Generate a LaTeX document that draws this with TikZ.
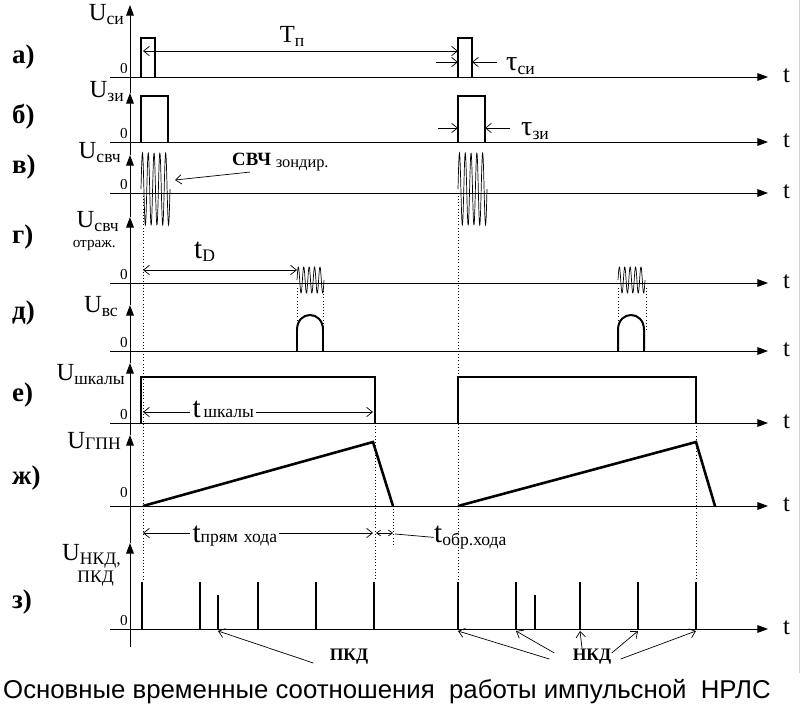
\documentclass[tikz,border=0pt]{standalone}
\usepackage{fontspec}
\setmainfont{Liberation Serif}
\newfontfamily\capfont{Liberation Sans}
\usetikzlibrary{arrows.meta,calc}
\tikzset{
    taxis/.style={line width=0.8pt, -{Triangle[length=9pt,width=6.5pt]}},
    pulse/.style={line width=1.7pt},
    ramp/.style={line width=2.2pt},
    burst/.style={line width=0.6pt},
    guide/.style={line width=0.7pt, dotted},
    dimarrow/.style={line width=0.6pt, {Straight Barb[length=5pt,width=8pt]}-{Straight Barb[length=5pt,width=8pt]}},
    ptr/.style={line width=0.6pt, -{Straight Barb[length=5pt,width=8pt]}},
    lbl/.style={inner sep=0pt},
}
\newcommand{\bigf}{\fontsize{21}{21}\selectfont}
\newcommand{\subf}{\fontsize{15}{15}\selectfont}
\newcommand{\tf}{\fontsize{25}{25}\selectfont}
\newcommand{\usub}[2]{{\bigf #1}\raisebox{-4pt}{\subf #2}}
\newcommand{\tsub}[3]{{\tf #1}\raisebox{#3}{\subf #2}}

\begin{document}
\begin{tikzpicture}[x=0.03cm, y=-0.03cm]
        \useasboundingbox (0,0) rectangle (802,718);
        %frame edge on the right
        \draw[gray!35, line width=0.6pt] (799,0) -- (799,673);
        %time axes and t labels
        \foreach \y/\n in {77/a,142/b,193/c,283/d,351/e,423/f,506/g,629/h}{
            \draw[taxis] (110,\y) -- (768,\y);
            \node[lbl, anchor=base west, font=\bigf] (t\n) at (783,{\y+5}) {t};
        }
        %voltage axes
        \foreach \a/\b in {93/5,155/93,217/155,305/217,363/305,435/363,543/435,647/543}
            \draw[taxis] (130,\a) -- (130,\b);
        %row labels
        \foreach \y/\t/\n in {57/а)/a,117/б)/b,167/в)/c,237/г)/d,313/д)/e,395/е)/f,478/ж)/g,602/з)/h}
            \node[anchor=west, font=\bfseries\fontsize{23}{23}\selectfont] (r\n) at (8,\y) {\t};
        %zero marks
        \foreach \y/\n in {73/a,138/b,189/c,279/d,347/e,419/f,497/g,625/h}
            \node[lbl, anchor=base east, font=\fontsize{13}{13}\selectfont] (z\n) at (128,\y) {0};
        %axis names
        \node[lbl, anchor=base east] (ua) at (124,20) {\usub{U}{си}};
        \node[lbl, anchor=base east] (ub) at (124,97) {\usub{U}{зи}};
        \node[lbl, anchor=base east] (uc) at (121,158) {\usub{U}{свч}};
        \node[lbl, anchor=base east] (ud) at (119,227) {\usub{U}{свч}};
        \node[lbl, anchor=base east, font=\fontsize{13}{13}\selectfont] (udx) at (116,247) {отраж.};
        \node[lbl, anchor=base east] (ue) at (118,312) {\usub{U}{вс}};
        \node[lbl, anchor=base east] (uf) at (125,380) {\usub{U}{шкалы}};
        \node[lbl, anchor=base east] (ug) at (121,448) {{\bigf U}\raisebox{-1pt}{\subf ГПН}};
        \node[lbl, anchor=base east] (uh) at (121,560) {\usub{U}{НКД,}};
        \node[lbl, anchor=base east, font=\subf] (uhx) at (114,582) {ПКД};

        %a) sync pulses
        \foreach \x in {141,458}
            \draw[pulse] (\x,77) -- (\x,38) -- ({\x+14},38) -- ({\x+14},77);
        \draw[dimarrow] (143,51) -- (458,51);
        \node[lbl, anchor=base] (tp) at (292,42) {\usub{T}{п}};
        \draw[ptr] (436,62) -- (458,62);
        \draw[ptr] (497,62) -- (472,62);
        \node[lbl, anchor=base west] (tsi) at (506,70) {{\fontsize{24}{24}\selectfont τ}\raisebox{-4pt}{\subf си}};

        %b) trigger pulses
        \foreach \x in {141,458}
            \draw[pulse] (\x,142) -- (\x,96) -- ({\x+27},96) -- ({\x+27},142);
        \draw[ptr] (438,128) -- (458,128);
        \draw[ptr] (510,128) -- (485,128);
        \node[lbl, anchor=base west] (tzi) at (521,135) {{\fontsize{24}{24}\selectfont τ}\raisebox{-4pt}{\subf зи}};

        %c) probing microwave bursts
        \foreach \s in {141,458}
            \draw[burst] plot[domain=0:29, samples=160, variable=\u] ({\s+\u},{189-36*sin(\u*360/5.8)});
        \node[lbl, anchor=base west] (svch) at (232,165) {{\bfseries\fontsize{16}{16}\selectfont СВЧ}\hspace{4pt}\raisebox{-2pt}{\fontsize{14}{14}\selectfont зондир.}};
        \coordinate (bc) at (175,180);
        \draw[ptr] ($(svch.south west)+(18,1)$) -- (bc);

        %d) echo bursts
        \foreach \s in {297,618}
            \draw[burst] plot[domain=0:27, samples=150, variable=\u] ({\s+\u},{280-13*sin(\u*360/5.4)});
        \draw[dimarrow] (143,270) -- (297,270);
        \node[lbl, anchor=base west] (td) at (194,258) {\tsub{t}{D}{-3pt}};

        %e) video pulses
        \foreach \s in {297,618}
            \draw[pulse] (\s,351) -- (\s,330) .. controls (\s,310) and ({\s+26},310) .. ({\s+26},330) -- ({\s+26},351);

        %dotted guides
        \draw[guide] (143,196) -- (143,580);
        \draw[guide] (458,196) -- (458,580);
        \foreach \x in {297,323,618,646}
            \draw[guide] (\x,288) -- (\x,330);
        \draw[guide] (375,423) -- (375,580);
        \draw[guide] (393,506) -- (393,546);
        \draw[guide] (696,423) -- (696,580);

        %f) range gate
        \foreach \s/\e in {141/375,458/696}
            \draw[pulse] (\s,423) -- (\s,377) -- (\e,377) -- (\e,423);
        \draw[dimarrow] (143,412) -- (373,412);
        \node[anchor=base west, fill=white, inner sep=2pt] (tsk) at (190,417) {\tsub{t}{\,шкалы}{0pt}};

        %g) sweep voltage
        \draw[ramp] (143,506) -- (373,442) -- (393,506);
        \draw[ramp] (458,506) -- (696,442) -- (715,506);
        \draw[dimarrow] (143,533) -- (373,533);
        \node[anchor=base west, fill=white, inner sep=2pt] (tpr) at (190,542) {\tsub{t}{прям\hspace{5pt}хода}{0pt}};
        \draw[line width=0.6pt, {Straight Barb[length=3.5pt,width=5pt]}-{Straight Barb[length=3.5pt,width=5pt]}] (376,533) -- (393,533);
        \node[lbl, anchor=base west] (tob) at (434,542) {\tsub{t}{обр.хода}{-3pt}};
        \draw[line width=0.6pt] (395,534) -- (tob.west);

        %h) range marks
        \foreach \x/\h/\n in {142/582/1,200/582/2,218/595/3,258/582/4,316/582/5,374/582/6,458/582/7,516/582/8,535/595/9,580/582/10,638/582/11,696/582/12}{
            \draw[pulse] (\x,629) -- (\x,\h);
            \coordinate (k\n) at (\x,631);
        }
        \node[font=\bfseries\fontsize{15}{15}\selectfont, inner sep=1pt] (pkd) at (349,657) {ПКД};
        \node[font=\bfseries\fontsize{15}{15}\selectfont, inner sep=1pt] (nkd) at (592,657) {НКД};
        \draw[ptr] ($(pkd.west)+(-15,6)$) -- (k3);
        \draw[ptr] ($(nkd.west)+(-22,2)$) -- (k7);
        \draw[ptr] ($(nkd.west)+(-17,-4)$) -- (k8);
        \draw[ptr] ($(nkd.north)+(-10,0)$) -- (k10);
        \draw[ptr] ($(nkd.east)+(-1,-4)$) -- (k11);
        \draw[ptr] ($(nkd.east)+(8,2)$) -- (k12);

        %caption
        \node[lbl, anchor=base west, font=\capfont\fontsize{22}{22}\selectfont] (cap) at (3,698) {Основные временные соотношения~ работы импульсной~ НРЛС};
    \end{tikzpicture}
\end{document}
